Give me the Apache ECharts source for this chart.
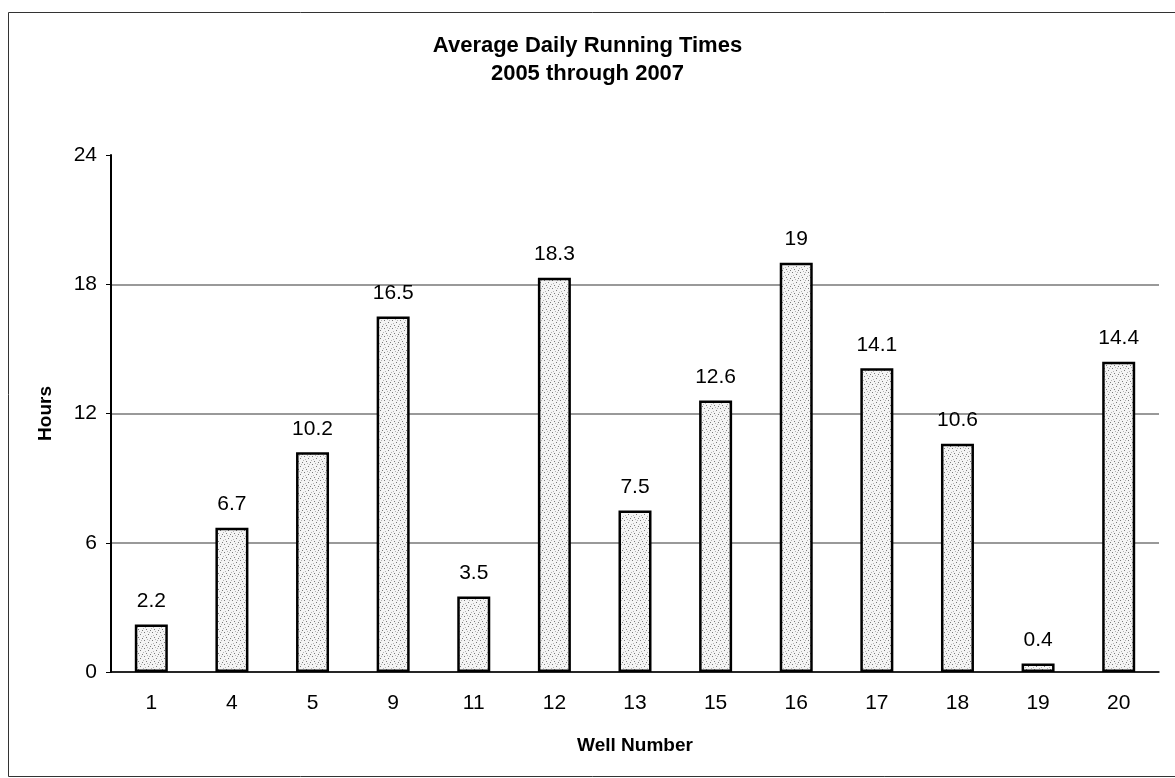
<!DOCTYPE html>
<html><head><meta charset="utf-8">
<script src="https://cdn.jsdelivr.net/npm/echarts@6/dist/echarts.min.js"></script>
<style>html,body{margin:0;padding:0;background:#fff}#c{width:1175px;height:778px}</style>
</head><body><div id="c"></div>
<script>
var categories = ['1','4','5','9','11','12','13','15','16','17','18','19','20'];
var hours = [2.2, 6.7, 10.2, 16.5, 3.5, 18.3, 7.5, 12.6, 19, 14.1, 10.6, 0.4, 14.4];
var yTicks = [0, 6, 12, 18, 24];

// stipple texture for bar fill
var pc = document.createElement('canvas');
pc.width = 8; pc.height = 8;
var pctx = pc.getContext('2d');
pctx.fillStyle = '#f4f4f4'; pctx.fillRect(0,0,8,8);
pctx.fillStyle = '#7a7a7a';
[[0,0],[4,2],[2,5],[6,6]].forEach(function(p){pctx.fillRect(p[0],p[1],1,1);});
pctx.fillStyle = '#b5b5b5';
[[5,0],[1,3],[7,4],[3,7]].forEach(function(p){pctx.fillRect(p[0],p[1],1,1);});

var font = '"Liberation Sans", Arial, sans-serif';
var chart = echarts.init(document.getElementById('c'));
chart.setOption({
  animation: false,
  backgroundColor: '#fff',
  graphic: [{type:'rect', shape:{x:8.5, y:12.5, width:1180, height:764}, style:{fill:'none', stroke:'#333', lineWidth:1}, silent:true}],
  title: {
    text: 'Average Daily Running Times\n2005 through 2007',
    left: 'center', top: 27,
    textStyle: {fontFamily: font, fontSize: 22, fontWeight: 'bold', color: '#000', lineHeight: 28}
  },
  grid: {left: 111, right: 16, top: 155, bottom: 106},
  xAxis: {
    type: 'category', data: categories,
    name: 'Well Number', nameLocation: 'middle', nameGap: 64,
    nameTextStyle: {fontFamily: font, fontSize: 19, fontWeight: 'bold', color: '#000'},
    axisLine: {lineStyle: {color: '#000', width: 1.5}},
    axisTick: {inside: true, length: 5, lineStyle: {color: '#000'}},
    axisLabel: {fontFamily: font, fontSize: 21, color: '#000', margin: 21}
  },
  yAxis: {
    type: 'value', min: yTicks[0], max: yTicks[yTicks.length-1], interval: 6,
    name: 'Hours', nameLocation: 'middle', nameGap: 56,
    nameTextStyle: {fontFamily: font, fontSize: 19, fontWeight: 'bold', color: '#000'},
    axisLine: {show: true, lineStyle: {color: '#000', width: 2}},
    axisTick: {show: true, length: 5, lineStyle: {color: '#000'}},
    axisLabel: {fontFamily: font, fontSize: 21, color: '#000', margin: 14},
    splitLine: {show: true, showMaxLine: false, lineStyle: {color: '#777', width: 1.5}}
  },
  series: [{
    type: 'bar', data: hours, barWidth: 33,
    itemStyle: {color: {image: pc, repeat: 'repeat'}, borderColor: '#000', borderWidth: 2.5},
    label: {show: true, position: 'top', distance: 13, fontFamily: font, fontSize: 21, color: '#000'}
  }]
});
</script></body></html>
